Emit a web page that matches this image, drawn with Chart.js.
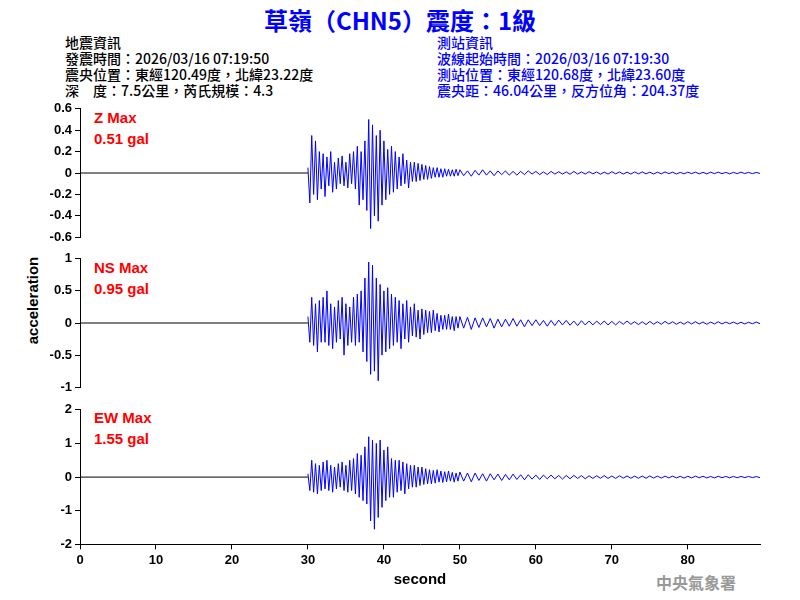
<!DOCTYPE html>
<html>
<head>
<meta charset="utf-8">
<script src="https://cdn.jsdelivr.net/npm/chart.js@4/dist/chart.umd.min.js"></script>
<style>
  body { margin: 0; background: #fff; width: 800px; height: 600px; position: relative; overflow: hidden; font-family: "Liberation Sans", Arial, sans-serif; }
  .abs { position: absolute; white-space: pre; }
  .cjk { font-family: "Noto Sans CJK TC", "Liberation Sans", sans-serif; }
  #title { left: 0; width: 800px; top: 2px; text-align: center; color: #0000ff; font-size: 24px; font-weight: bold; }
  .info { font-size: 14px; line-height: 16px; top: 34px; font-weight: 500; }
  .lbl { color: #ff0000; font-weight: bold; font-size: 15px; line-height: 21px; left: 94px; }
  canvas { position: absolute; left: 0; }
</style>
</head>
<body>
<div id="title" class="abs cjk">草嶺（CHN5）震度：1級</div>
<div class="abs cjk info" style="left:65px;color:#000">地震資訊
發震時間：2026/03/16 07:19:50
震央位置：東經120.49度，北緯23.22度
深　度：7.5公里，芮氏規模：4.3</div>
<div class="abs cjk info" style="left:437px;color:#0000ff">測站資訊
波線起始時間：2026/03/16 07:19:30
測站位置：東經120.68度，北緯23.60度
震央距：46.04公里，反方位角：204.37度</div>
<div class="abs lbl" style="top:107px">Z Max
0.51 gal</div>
<div class="abs lbl" style="top:257px">NS Max
0.95 gal</div>
<div class="abs lbl" style="top:407px">EW Max
1.55 gal</div>
<div class="abs" style="left:-18px;top:292px;transform:rotate(-90deg);font-weight:bold;font-size:15px;width:100px;text-align:center">acceleration</div>
<div class="abs cjk" style="left:656px;top:570px;color:#999;font-weight:bold;font-size:16px">中央氣象署</div>
<canvas id="cz" width="770" height="150" style="top:98px"></canvas>
<canvas id="cn" width="770" height="150" style="top:248px"></canvas>
<canvas id="ce" width="770" height="190" style="top:399px"></canvas>
<script>
// fine section: 30-50 s every 0.25 s, coarse section: 50-89.5 s every 0.5 s
const fineStart = 30, fineStep = 0.25, coarseStart = 50, coarseStep = 0.5;

const zFine = [0.05,-0.28,0.35,-0.2,0.3,-0.25,0.2,-0.15, 0.18,-0.22,0.15,-0.12,0.2,-0.18,0.1,-0.15,
  0.14,-0.1,0.16,-0.12,0.1,-0.14,0.18,-0.1, 0.2,-0.15,0.25,-0.3,0.2,-0.25,0.3,-0.35,
  0.5,-0.52,0.45,-0.4,0.35,-0.45,0.4,-0.3, 0.3,-0.25,0.22,-0.2,0.25,-0.18,0.2,-0.15,
  0.15,-0.12,0.18,-0.1,0.12,-0.14,0.1,-0.08, 0.1,-0.08,0.09,-0.07,0.08,-0.06,0.07,-0.06,
  0.06,-0.05,0.05,-0.04,0.05,-0.04,0.04,-0.04, 0.04,-0.03,0.035,-0.03,0.03,-0.03,0.035,-0.025];
const zCoarse = [0.03,-0.025,0.02,-0.03, 0.025,-0.02,0.03,-0.02, 0.02,-0.025,0.02,-0.015, 0.02,-0.02,0.015,-0.02,
  0.015,-0.015,0.02,-0.01, 0.015,-0.015,0.01,-0.015, 0.015,-0.01,0.012,-0.01, 0.01,-0.012,0.015,-0.01,
  0.01,-0.01,0.012,-0.008, 0.01,-0.012,0.008,-0.01, 0.012,-0.008,0.01,-0.01, 0.008,-0.01,0.01,-0.008,
  0.01,-0.008,0.008,-0.01, 0.008,-0.008,0.01,-0.006, 0.008,-0.01,0.006,-0.008, 0.008,-0.006,0.008,-0.008,
  0.006,-0.008,0.008,-0.006, 0.008,-0.006,0.006,-0.008, 0.006,-0.006,0.008,-0.005, 0.006,-0.006,0.005,-0.004];

const nFine = [0.1,-0.3,0.4,-0.35,0.3,-0.45,0.35,-0.3, 0.4,-0.3,0.5,-0.35,0.3,-0.4,0.25,-0.3,
  0.35,-0.25,0.4,-0.5,0.3,-0.35,0.25,-0.3, 0.4,-0.35,0.45,-0.3,0.5,-0.45,0.7,-0.6,
  0.95,-0.8,0.9,-0.75,0.7,-0.9,0.6,-0.5, 0.5,-0.45,0.55,-0.4,0.45,-0.35,0.4,-0.3,
  0.35,-0.4,0.3,-0.25,0.35,-0.3,0.25,-0.2, 0.3,-0.22,0.2,-0.25,0.22,-0.18,0.2,-0.15,
  0.18,-0.15,0.2,-0.12,0.15,-0.14,0.12,-0.1, 0.12,-0.1,0.14,-0.1,0.1,-0.12,0.1,-0.08];
const nCoarse = [0.1,-0.08,0.09,-0.1, 0.08,-0.07,0.08,-0.06, 0.07,-0.08,0.06,-0.06, 0.06,-0.05,0.07,-0.05,
  0.05,-0.06,0.05,-0.04, 0.05,-0.04,0.04,-0.05, 0.04,-0.04,0.045,-0.03, 0.04,-0.035,0.03,-0.04,
  0.035,-0.03,0.03,-0.03, 0.03,-0.025,0.03,-0.03, 0.025,-0.03,0.025,-0.02, 0.03,-0.02,0.02,-0.025,
  0.02,-0.025,0.025,-0.02, 0.02,-0.02,0.025,-0.015, 0.02,-0.02,0.015,-0.02, 0.02,-0.015,0.02,-0.015,
  0.015,-0.02,0.015,-0.015, 0.02,-0.015,0.015,-0.012, 0.015,-0.015,0.012,-0.015, 0.012,-0.012,0.015,-0.01];

const eFine = [0.1,-0.4,0.5,-0.45,0.4,-0.5,0.35,-0.4, 0.45,-0.35,0.5,-0.4,0.35,-0.45,0.3,-0.35,
  0.4,-0.3,0.45,-0.4,0.35,-0.45,0.5,-0.4, 0.55,-0.5,0.7,-0.6,0.65,-0.7,0.9,-0.8,
  1.2,-1.3,1.1,-1.55,1.0,-1.2,1.1,-0.9, 0.8,-0.7,0.9,-0.6,0.55,-0.6,0.5,-0.45,
  0.5,-0.4,0.45,-0.5,0.4,-0.35,0.35,-0.3, 0.35,-0.3,0.3,-0.25,0.3,-0.22,0.25,-0.2,
  0.22,-0.2,0.2,-0.18,0.22,-0.15,0.18,-0.16, 0.16,-0.14,0.18,-0.12,0.14,-0.15,0.12,-0.12];
const eCoarse = [0.15,-0.12,0.12,-0.14, 0.12,-0.1,0.1,-0.12, 0.1,-0.08,0.09,-0.1, 0.08,-0.08,0.09,-0.07,
  0.07,-0.08,0.07,-0.06, 0.06,-0.07,0.06,-0.05, 0.06,-0.05,0.05,-0.06, 0.05,-0.05,0.05,-0.04,
  0.045,-0.05,0.04,-0.04, 0.04,-0.035,0.045,-0.04, 0.035,-0.04,0.04,-0.03, 0.035,-0.035,0.03,-0.035,
  0.03,-0.035,0.035,-0.03, 0.03,-0.03,0.03,-0.025, 0.03,-0.025,0.025,-0.03, 0.025,-0.025,0.03,-0.02,
  0.025,-0.025,0.02,-0.025, 0.025,-0.02,0.02,-0.02, 0.02,-0.02,0.02,-0.015, 0.02,-0.015,0.015,-0.015];

function trace(fine, coarse) {
  const pts = [];
  fine.forEach((v, i) => pts.push({x: fineStart + i * fineStep, y: v}));
  coarse.forEach((v, i) => pts.push({x: coarseStart + i * coarseStep, y: v}));
  return pts;
}

const tickFont = { family: 'Liberation Sans', size: 13, weight: 'bold' };

function makePanel(id, fine, coarse, lim, step, showX) {
  new Chart(document.getElementById(id), {
    type: 'line',
    data: { datasets: [
      { data: [{x: 0, y: 0}, {x: fineStart, y: 0}], borderColor: '#000', borderWidth: 1, pointRadius: 0 },
      { data: trace(fine, coarse), borderColor: '#0000ff', borderWidth: 1, pointRadius: 0, tension: 0 }
    ] },
    options: {
      responsive: false, animation: false,
      layout: { padding: { top: 9, bottom: showX ? 0 : 7, right: 10 } },
      plugins: { legend: { display: false }, tooltip: { enabled: false } },
      scales: {
        x: {
          type: 'linear', min: 0, max: 89.5, display: showX,
          afterBuildTicks: s => { s.ticks = s.ticks.filter(t => t.value % 10 === 0); },
          border: { color: '#000' },
          grid: { drawOnChartArea: false, color: '#000', tickLength: 5 },
          ticks: { stepSize: 10, color: '#000', font: tickFont },
          title: { display: true, text: 'second', color: '#000', font: { family: 'Liberation Sans', size: 15, weight: 'bold' }, padding: 0 }
        },
        y: {
          min: -lim, max: lim,
          afterFit: s => { s.width = 80; },
          border: { color: '#000' },
          grid: { drawOnChartArea: false, color: '#000', tickLength: 5 },
          ticks: { stepSize: step, color: '#000', font: tickFont, padding: 3, callback: v => String(Math.round(v * 10) / 10) }
        }
      }
    }
  });
}

makePanel('cz', zFine, zCoarse, 0.6, 0.2, false);
makePanel('cn', nFine, nCoarse, 1, 0.5, false);
makePanel('ce', eFine, eCoarse, 2, 1, true);
</script>
</body>
</html>
